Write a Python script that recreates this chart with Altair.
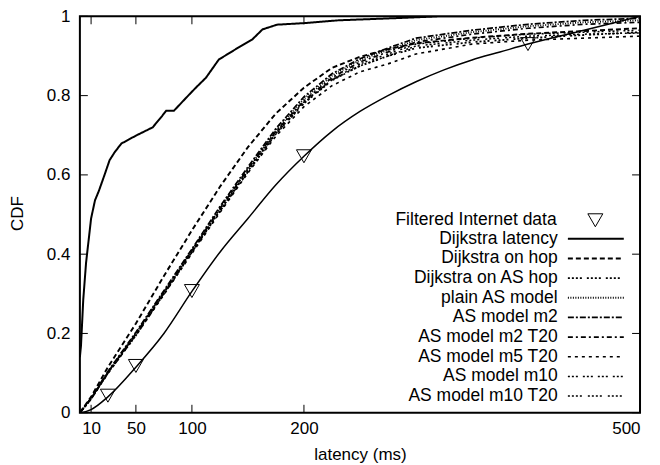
import altair as alt
import pandas as pd

FONT = "Liberation Sans"

# ---------------- data ----------------
series_names = [
    "Dijkstra latency",
    "Dijkstra on hop",
    "Dijkstra on AS hop",
    "plain AS model",
    "AS model m2",
    "AS model m2 T20",
    "AS model m5 T20",
    "AS model m10",
    "AS model m10 T20",
]
dash_patterns = [
    [1, 0],
    [5, 3],
    [2, 2, 2, 2, 2, 2, 2, 5],
    [1, 1.5],
    [6, 2, 2, 2],
    [5, 3, 2, 3],
    [3, 4],
    [2, 2, 2, 2, 2, 5],
    [2, 2, 2, 2, 2, 2, 2, 6],
]
line_widths = [2, 1.5, 1.5, 1.5, 1.5, 1.5, 1.5, 1.5, 1.5]

# Dijkstra latency (steep curve)
dijkstra_lat_x = [0, 1, 3, 5.5, 10, 13.5, 17, 22, 26.5, 31, 37, 50, 65, 73.5, 77, 84, 95,
                  103.5, 112.5, 124, 139, 154, 163, 176, 201, 231, 287, 320, 500]
dijkstra_lat_y = [0.14, 0.17, 0.285, 0.378, 0.49, 0.536, 0.56, 0.60, 0.637, 0.657, 0.679,
                  0.699, 0.72, 0.749, 0.762, 0.762, 0.795, 0.82, 0.845, 0.891, 0.917, 0.942,
                  0.967, 0.979, 0.983, 0.99, 0.996, 1.0, 1.0]

grid_x = [0, 10, 25, 50, 75, 100, 125, 150, 175, 200, 225, 250, 275, 300, 350, 400, 450, 500]
dijkstra_hop_y = [0, 0.04, 0.115, 0.225, 0.345, 0.46, 0.57, 0.67, 0.755, 0.82, 0.87, 0.898,
                  0.917, 0.932, 0.946, 0.956, 0.963, 0.97]
dijkstra_as_hop_y = [0, 0.035, 0.10, 0.195, 0.30, 0.405, 0.51, 0.61, 0.705, 0.782, 0.84,
                     0.875, 0.9, 0.92, 0.935, 0.945, 0.953, 0.96]
plain_as_y = [0, 0.036, 0.102, 0.2, 0.305, 0.41, 0.515, 0.615, 0.712, 0.792, 0.85, 0.89,
              0.915, 0.94, 0.96, 0.975, 0.985, 0.99]
as_m2_y = [0, 0.037, 0.104, 0.203, 0.308, 0.413, 0.52, 0.62, 0.717, 0.797, 0.855, 0.893,
           0.92, 0.945, 0.965, 0.98, 0.99, 0.995]
as_m2_t20_y = [0, 0.036, 0.102, 0.2, 0.305, 0.41, 0.515, 0.615, 0.71, 0.787, 0.845, 0.885,
               0.91, 0.935, 0.955, 0.97, 0.98, 0.985]
as_m5_t20_y = [0, 0.034, 0.099, 0.195, 0.298, 0.402, 0.505, 0.605, 0.698, 0.772, 0.825,
               0.86, 0.88, 0.905, 0.93, 0.94, 0.945, 0.95]
as_m10_y = [0, 0.035, 0.101, 0.198, 0.302, 0.407, 0.51, 0.61, 0.707, 0.784, 0.84, 0.88,
            0.905, 0.93, 0.945, 0.955, 0.96, 0.965]
as_m10_t20_y = [0, 0.035, 0.1, 0.197, 0.3, 0.405, 0.508, 0.607, 0.703, 0.78, 0.838, 0.875,
                0.9, 0.925, 0.94, 0.95, 0.955, 0.958]

# Filtered Internet data (smooth curve + triangle samples)
internet_x = [0, 10, 25, 50, 75, 100, 125, 150, 175, 200, 225, 250, 275, 300, 325, 350, 375,
              400, 450, 500]
internet_y = [0, 0.008, 0.04, 0.115, 0.2, 0.306, 0.405, 0.49, 0.575, 0.647, 0.71, 0.76, 0.80,
              0.835, 0.865, 0.89, 0.91, 0.93, 0.965, 1.0]
tri_x = [25, 50, 100, 200, 400]
tri_y = [0.043, 0.118, 0.307, 0.647, 0.93]

x_ticks = [10, 50, 100, 200, 500]
y_ticks = [0, 0.2, 0.4, 0.6, 0.8, 1]

# ---------------- frames ----------------
rows = []
for x, y in zip(dijkstra_lat_x, dijkstra_lat_y):
    rows.append({"series": series_names[0], "lat": x, "cdf": y})
for name, ys in zip(series_names[1:], [dijkstra_hop_y, dijkstra_as_hop_y, plain_as_y, as_m2_y,
                                       as_m2_t20_y, as_m5_t20_y, as_m10_y, as_m10_t20_y]):
    for x, y in zip(grid_x, ys):
        rows.append({"series": name, "lat": x, "cdf": y})
lines_df = pd.DataFrame(rows)
internet_df = pd.DataFrame({"lat": internet_x, "cdf": internet_y})
tri_df = pd.DataFrame({"lat": tri_x, "cdf": tri_y, "kind": "Filtered Internet data"})
xt_df = pd.DataFrame({"v": x_ticks})
yt_df = pd.DataFrame({"v": y_ticks})

xscale = alt.Scale(domain=[0, 500], nice=False, zero=False)
yscale = alt.Scale(domain=[0, 1], nice=False)

X = alt.X("lat:Q", scale=xscale,
          axis=alt.Axis(values=x_ticks, format="d", title="latency (ms)", labelPadding=8,
                        titleY=42, titleBaseline="middle"))
Y = alt.Y("cdf:Q", scale=yscale,
          axis=alt.Axis(values=y_ticks, format="~g", title="CDF", labelPadding=10,
                        titleX=-62, titleY=197, titleAngle=-90, titleAlign="center",
                        titleBaseline="middle"))

TX = 7.1
TY = 0.02
xt_bottom = alt.Chart(xt_df).mark_rule(color="black", strokeWidth=1).encode(
    x=alt.X("v:Q", scale=xscale), y=alt.datum(0), y2=alt.datum(TY))
xt_top = alt.Chart(xt_df).mark_rule(color="black", strokeWidth=1).encode(
    x=alt.X("v:Q", scale=xscale), y=alt.datum(1), y2=alt.datum(1 - TY))
yt_left = alt.Chart(yt_df).mark_rule(color="black", strokeWidth=1).encode(
    y=alt.Y("v:Q", scale=yscale), x=alt.datum(0), x2=alt.datum(TX))
yt_right = alt.Chart(yt_df).mark_rule(color="black", strokeWidth=1).encode(
    y=alt.Y("v:Q", scale=yscale), x=alt.datum(500), x2=alt.datum(500 - TX))

internet_line = alt.Chart(internet_df).mark_line(
    color="black", strokeWidth=1.5, interpolate="monotone", clip=True
).encode(x=X, y=Y)

lines = alt.Chart(lines_df).mark_line(color="black", clip=True).encode(
    x=X, y=Y,
    strokeDash=alt.StrokeDash(
        "series:N", sort=series_names,
        scale=alt.Scale(domain=series_names, range=dash_patterns),
        legend=alt.Legend(
            title=None, orient="none", legendX=508, legendY=214,
            symbolType="M-4,0H4", symbolSize=196, symbolStrokeWidth=1.5,
            symbolStrokeColor="black", labelAlign="right", labelOffset={"expr": "-47"},
            labelFont=FONT, labelFontSize=17.5, labelColor="black", labelLimit=400,
            rowPadding=0.7,
        ),
    ),
    strokeWidth=alt.StrokeWidth(
        "series:N", scale=alt.Scale(domain=series_names, range=line_widths), legend=None),
    order=alt.Order("lat:Q"),
)

tris = alt.Chart(tri_df).mark_point(
    filled=False, color="black", size=225, strokeWidth=1, opacity=1
).encode(
    x=X, y=Y,
    shape=alt.Shape(
        "kind:N",
        scale=alt.Scale(domain=["Filtered Internet data"], range=["triangle-down"]),
        legend=alt.Legend(
            title=None, orient="none", legendX=507.5, legendY=195.5,
            symbolSize=225, symbolStrokeWidth=1, symbolStrokeColor="black",
            symbolFillColor="transparent",
            labelAlign="right", labelOffset={"expr": "-47.5"},
            labelFont=FONT, labelFontSize=17.5, labelColor="black", labelLimit=400,
        ),
    ),
)

chart = alt.layer(
    internet_line, lines, tris, xt_bottom, xt_top, yt_left, yt_right
).properties(
    width=561, height=397,
    autosize=alt.AutoSizeParams(type="none"),
    padding={"left": 72, "top": 8, "right": 12, "bottom": 52},
    background="white",
).configure_view(
    stroke="black", strokeWidth=2
).configure_axis(
    grid=False, domain=False, ticks=False, tickSize=0,
    labelFont=FONT, labelFontSize=17, labelColor="black",
    titleFont=FONT, titleFontSize=17, titleFontWeight="normal", titleColor="black",
)

chart.save("out.html", embed_options={"renderer": "svg", "actions": False})
